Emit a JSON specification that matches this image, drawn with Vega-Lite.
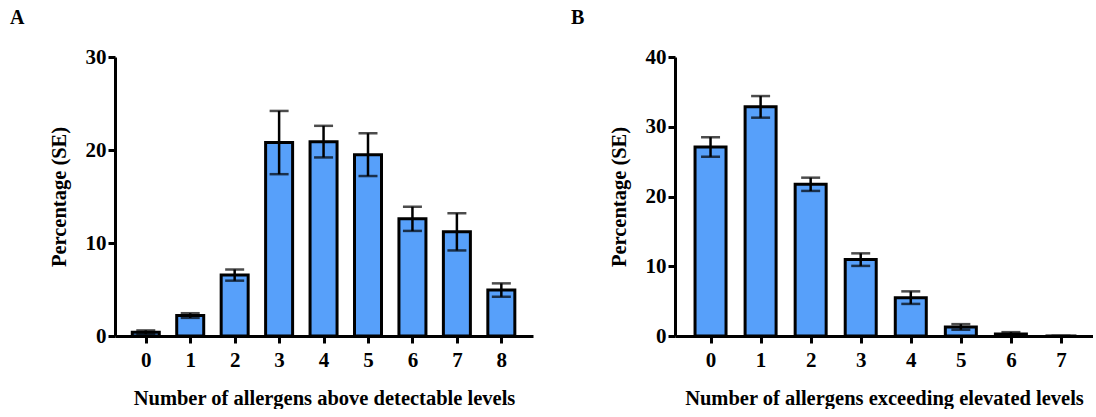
{
  "$schema": "https://vega.github.io/schema/vega-lite/v6.json",
  "padding": {"left": 10, "top": 8, "right": 0, "bottom": 0},
  "background": "white",
  "datasets": {
    "a": [
      {"n": 0, "pct": 0.4, "se": 0.2},
      {"n": 1, "pct": 2.2, "se": 0.25},
      {"n": 2, "pct": 6.55, "se": 0.6},
      {"n": 3, "pct": 20.8, "se": 3.4},
      {"n": 4, "pct": 20.9, "se": 1.7},
      {"n": 5, "pct": 19.5, "se": 2.3},
      {"n": 6, "pct": 12.6, "se": 1.3},
      {"n": 7, "pct": 11.2, "se": 2.0},
      {"n": 8, "pct": 4.94, "se": 0.72}
    ],
    "b": [
      {"n": 0, "pct": 27.1, "se": 1.4},
      {"n": 1, "pct": 32.85, "se": 1.55},
      {"n": 2, "pct": 21.75, "se": 0.95},
      {"n": 3, "pct": 10.95, "se": 0.9},
      {"n": 4, "pct": 5.5, "se": 0.9},
      {"n": 5, "pct": 1.3, "se": 0.4},
      {"n": 6, "pct": 0.3, "se": 0.25},
      {"n": 7, "pct": 0, "se": 0}
    ]
  },
  "config": {
    "view": {"stroke": null},
    "font": "Liberation Serif",
    "axis": {
      "grid": false,
      "domainColor": "black",
      "domainWidth": 3,
      "tickColor": "black",
      "tickWidth": 3,
      "tickSize": 7,
      "labelFont": "Liberation Serif",
      "labelFontSize": 21,
      "labelFontWeight": "bold",
      "labelColor": "black",
      "titleFont": "Liberation Serif",
      "titleFontSize": 20.5,
      "titleFontWeight": "bold",
      "titleColor": "black"
    },
    "axisX": {"labelPadding": 6, "titlePadding": 18, "labelAngle": 0},
    "axisY": {"labelPadding": 2, "titlePadding": 16},
    "title": {"font": "Liberation Serif", "fontSize": 20, "fontWeight": "bold", "anchor": "start", "frame": "group", "color": "black"},
    "concat": {"spacing": 38}
  },
  "hconcat": [
    {
      "width": 418,
      "height": 279,
      "title": {"text": "A", "dx": -105, "offset": 18},
      "data": {"name": "a"},
      "layer": [
        {
          "mark": {"type": "bar", "size": 27, "fill": "#57a0fa", "stroke": "black", "strokeWidth": 3},
          "encoding": {
            "x": {"field": "n", "type": "quantitative", "scale": {"domain": [-0.58, 8.6], "nice": false, "zero": false},
                  "axis": {"values": [0, 1, 2, 3, 4, 5, 6, 7, 8], "format": "d", "title": "Number of allergens above detectable levels"}},
            "y": {"field": "pct", "type": "quantitative", "scale": {"domain": [0, 30], "nice": false},
                  "axis": {"values": [0, 10, 20, 30], "title": "Percentage (SE)"}}
          }
        },
        {
          "mark": {"type": "errorbar", "color": "black", "ticks": {"size": 19, "thickness": 2.5, "color": "black"}, "rule": {"strokeWidth": 2.5, "color": "black"}},
          "encoding": {
            "x": {"field": "n", "type": "quantitative", "title": "Number of allergens above detectable levels"},
            "y": {"field": "pct", "type": "quantitative", "title": "Percentage (SE)"},
            "yError": {"field": "se"}
          }
        }
      ]
    },
    {
      "width": 418,
      "height": 279,
      "title": {"text": "B", "dx": -104, "offset": 18},
      "data": {"name": "b"},
      "layer": [
        {
          "mark": {"type": "bar", "size": 31, "fill": "#57a0fa", "stroke": "black", "strokeWidth": 3},
          "encoding": {
            "x": {"field": "n", "type": "quantitative", "scale": {"domain": [-0.61, 7.54], "nice": false, "zero": false},
                  "axis": {"values": [0, 1, 2, 3, 4, 5, 6, 7], "format": "d", "title": "Number of allergens exceeding elevated levels"}},
            "y": {"field": "pct", "type": "quantitative", "scale": {"domain": [0, 40], "nice": false},
                  "axis": {"values": [0, 10, 20, 30, 40], "title": "Percentage (SE)"}}
          }
        },
        {
          "mark": {"type": "errorbar", "color": "black", "ticks": {"size": 19, "thickness": 2.5, "color": "black"}, "rule": {"strokeWidth": 2.5, "color": "black"}},
          "encoding": {
            "x": {"field": "n", "type": "quantitative", "title": "Number of allergens exceeding elevated levels"},
            "y": {"field": "pct", "type": "quantitative", "title": "Percentage (SE)"},
            "yError": {"field": "se"}
          }
        }
      ]
    }
  ]
}
